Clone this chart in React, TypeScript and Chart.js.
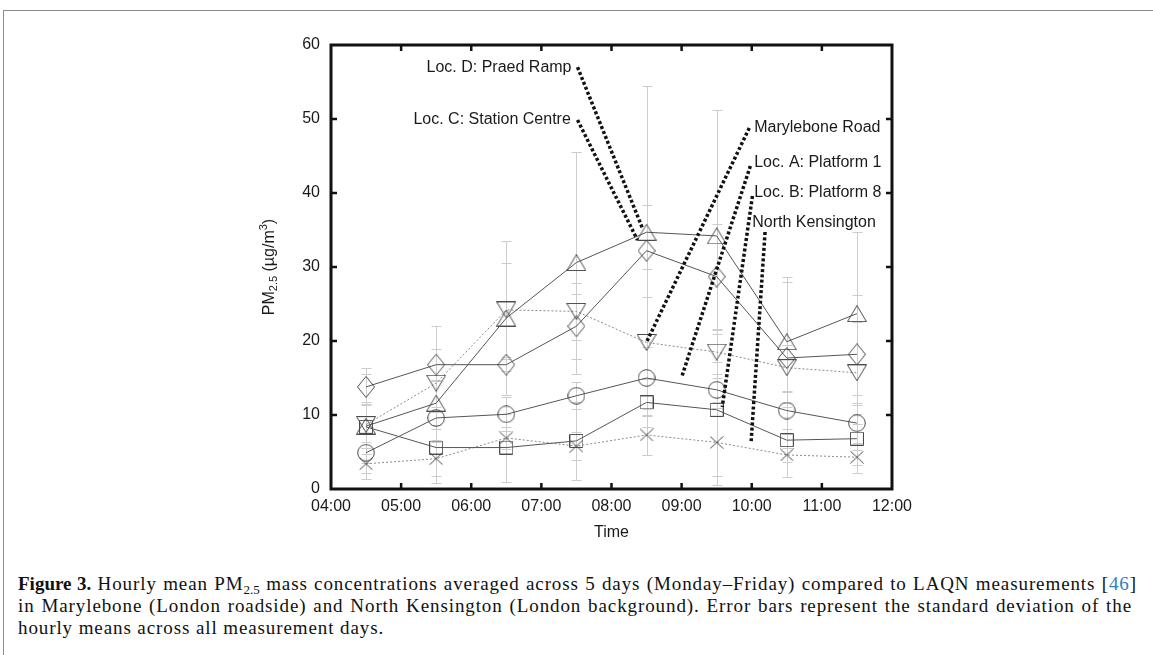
import React, { useEffect, useRef } from 'react';
import { Chart, registerables } from 'chart.js';

Chart.register(...registerables);

// ---------------- data ----------------
const hours = [4.5, 5.5, 6.5, 7.5, 8.5, 9.5, 10.5, 11.5];
const xTickValues = [4, 5, 6, 7, 8, 9, 10, 11, 12];
const xTickLabels = ['04:00', '05:00', '06:00', '07:00', '08:00', '09:00', '10:00', '11:00', '12:00'];
const yTickValues = [0, 10, 20, 30, 40, 50, 60];

const locD = [8.5, 11.6, 23.1, 30.6, 34.7, 34.2, 19.9, 23.7];
const locDSd = [3.0, 3.0, 10.4, 15.0, 19.8, 17.0, 8.8, 11.0];
const locC = [13.8, 16.8, 16.8, 22.0, 32.2, 28.7, 17.7, 18.2];
const locCSd = [2.5, 2.1, 0.8, 4.4, 6.2, 7.1, 10.3, 8.0];
const marylebone = [8.7, 14.3, 24.2, 24.0, 19.8, 18.5, 16.4, 15.7];
const maryleboneSd = [3.1, 7.7, 6.4, 3.9, 9.9, 3.0, 3.1, 6.9];
const locA = [4.9, 9.6, 10.1, 12.6, 15.0, 13.4, 10.6, 8.9];
const locASd = [1.4, 1.5, 2.3, 1.8, 4.2, 1.6, 2.5, 2.7];
const locB = [8.4, 5.6, 5.6, 6.5, 11.7, 10.7, 6.6, 6.8];
const locBSd = [7.1, 4.8, 4.6, 5.3, 3.3, 10.2, 5.0, 4.6];
const northKen = [3.4, 4.1, 6.9, 5.8, 7.3, 6.3, 4.6, 4.3];
const northKenSd = [1.3, 2.3, 1.5, 1.9, 2.7, 4.6, 0.9, 1.0];

// annotation labels (data coordinates: hours, µg/m³)
const annLabels = ['Loc. D: Praed Ramp', 'Loc. C: Station Centre', 'Marylebone Road', 'Loc. A: Platform 1', 'Loc. B: Platform 8', 'North Kensington'];
const annAlign = ['right', 'right', 'left', 'left', 'left', 'left'];
const annTextX = [7.43, 7.42, 10.035, 10.035, 10.035, 10.007];
const annTextY = [56.9, 49.9, 48.9, 44.05, 40.0, 35.95];
const annX1 = [7.516, 7.516, 9.965, 9.98, 10.01, 10.19];
const annY1 = [57.0, 49.86, 48.78, 43.65, 39.6, 34.73];
const annX2 = [8.44, 8.37, 8.5, 9.0, 9.58, 9.99];
const annY2 = [35.27, 33.65, 19.86, 15.1, 11.08, 6.2];

const FONT = '"Liberation Sans", Arial, sans-serif';

function makeMarker(kind: string): HTMLCanvasElement {
  const dims: Record<string, [number, number]> = {
    up: [20, 17], down: [20, 17], diamond: [18, 22], circle: [18, 18], square: [14, 14], x: [14, 13],
  };
  const [w, h] = dims[kind];
  const c = document.createElement('canvas');
  c.width = w; c.height = h;
  const g = c.getContext('2d')!;
  g.strokeStyle = '#4a4a4a';
  g.lineWidth = 1;
  g.beginPath();
  if (kind === 'up') {
    g.moveTo(w / 2, 0.5); g.lineTo(w - 0.5, h - 0.5); g.lineTo(0.5, h - 0.5); g.closePath();
  } else if (kind === 'down') {
    g.moveTo(0.5, 0.5); g.lineTo(w - 0.5, 0.5); g.lineTo(w / 2, h - 0.5); g.closePath();
  } else if (kind === 'diamond') {
    g.moveTo(w / 2, 0.5); g.lineTo(w - 0.5, h / 2); g.lineTo(w / 2, h - 0.5); g.lineTo(0.5, h / 2); g.closePath();
  } else if (kind === 'circle') {
    g.arc(w / 2, h / 2, w / 2 - 0.7, 0, Math.PI * 2);
  } else if (kind === 'square') {
    g.rect(0.5, 0.5, w - 1, h - 1);
  } else {
    g.moveTo(0.5, 0.5); g.lineTo(w - 0.5, h - 0.5); g.moveTo(w - 0.5, 0.5); g.lineTo(0.5, h - 0.5);
  }
  g.stroke();
  return c;
}

export default function App() {
  const ref = useRef<HTMLCanvasElement | null>(null);

  useEffect(() => {
    if (!ref.current) return;
    const series = [
      { label: 'Loc. D: Praed Ramp', values: locD, sd: locDSd, marker: 'up', color: '#555', dash: [] as number[] },
      { label: 'Loc. C: Station Centre', values: locC, sd: locCSd, marker: 'diamond', color: '#555', dash: [] },
      { label: 'Marylebone Road', values: marylebone, sd: maryleboneSd, marker: 'down', color: '#8a8a8a', dash: [2, 2] },
      { label: 'Loc. A: Platform 1', values: locA, sd: locASd, marker: 'circle', color: '#555', dash: [] },
      { label: 'Loc. B: Platform 8', values: locB, sd: locBSd, marker: 'square', color: '#555', dash: [] },
      { label: 'North Kensington', values: northKen, sd: northKenSd, marker: 'x', color: '#8a8a8a', dash: [2, 2] },
    ];

    const decor = {
      id: 'decor',
      beforeDatasetsDraw(chart: any) {
        const { ctx, scales: { x, y } } = chart;
        ctx.save();
        ctx.strokeStyle = '#cdcdcd';
        ctx.lineWidth = 1;
        series.forEach((s) => {
          s.values.forEach((v, i) => {
            const px = Math.round(x.getPixelForValue(hours[i])) + 0.5;
            const t = Math.round(y.getPixelForValue(v + s.sd[i])) + 0.5;
            const b = Math.round(y.getPixelForValue(v - s.sd[i])) + 0.5;
            ctx.beginPath();
            ctx.moveTo(px, t); ctx.lineTo(px, b);
            ctx.moveTo(px - 5, t); ctx.lineTo(px + 5, t);
            ctx.moveTo(px - 5, b); ctx.lineTo(px + 5, b);
            ctx.stroke();
          });
        });
        ctx.restore();
      },
      afterDatasetsDraw(chart: any) {
        const { ctx, chartArea: a, scales: { x, y } } = chart;
        ctx.save();
        // annotation dotted lines and labels
        ctx.strokeStyle = '#111';
        ctx.lineWidth = 3.5;
        ctx.setLineDash([3, 2.3]);
        for (let i = 0; i < annLabels.length; i++) {
          ctx.beginPath();
          ctx.moveTo(x.getPixelForValue(annX1[i]), y.getPixelForValue(annY1[i]));
          ctx.lineTo(x.getPixelForValue(annX2[i]), y.getPixelForValue(annY2[i]));
          ctx.stroke();
        }
        ctx.setLineDash([]);
        ctx.fillStyle = '#1a1a1a';
        ctx.font = `16px ${FONT}`;
        ctx.textBaseline = 'middle';
        for (let i = 0; i < annLabels.length; i++) {
          ctx.textAlign = annAlign[i] as CanvasTextAlign;
          ctx.fillText(annLabels[i], x.getPixelForValue(annTextX[i]), y.getPixelForValue(annTextY[i]));
        }
        // box
        ctx.strokeStyle = '#111';
        ctx.lineWidth = 3;
        ctx.strokeRect(a.left, a.top, a.right - a.left, a.bottom - a.top);
        // inward ticks
        ctx.lineWidth = 2.5;
        const tl = 6;
        ctx.beginPath();
        xTickValues.slice(1, -1).forEach((v) => {
          const px = x.getPixelForValue(v);
          ctx.moveTo(px, a.bottom); ctx.lineTo(px, a.bottom - tl);
          ctx.moveTo(px, a.top); ctx.lineTo(px, a.top + tl);
        });
        yTickValues.slice(1, -1).forEach((v) => {
          const py = y.getPixelForValue(v);
          ctx.moveTo(a.left, py); ctx.lineTo(a.left + tl, py);
          ctx.moveTo(a.right, py); ctx.lineTo(a.right - tl, py);
        });
        ctx.stroke();
        ctx.restore();
      },
      afterDraw(chart: any) {
        const { ctx, chartArea: a } = chart;
        ctx.save();
        ctx.fillStyle = '#1a1a1a';
        ctx.textBaseline = 'middle';
        // x title
        ctx.font = `16px ${FONT}`;
        ctx.textAlign = 'center';
        ctx.fillText('Time', (a.left + a.right) / 2, a.bottom + 44);
        // y title with sub/superscript
        const big = `16px ${FONT}`;
        const small = `11px ${FONT}`;
        const parts: [string, string, number][] = [
          ['PM', big, 0], ['2.5', small, 4], [' (µg/m', big, 0], ['3', small, -6], [')', big, 0],
        ];
        let total = 0;
        parts.forEach(([t, f]) => { ctx.font = f; total += ctx.measureText(t).width; });
        ctx.translate(a.left - 61, (a.top + a.bottom) / 2);
        ctx.rotate(-Math.PI / 2);
        ctx.textAlign = 'left';
        let cx = -total / 2;
        parts.forEach(([t, f, dy]) => {
          ctx.font = f;
          ctx.fillText(t, cx, dy);
          cx += ctx.measureText(t).width;
        });
        ctx.restore();
      },
    };

    const chart = new Chart(ref.current, {
      type: 'line',
      data: {
        datasets: series.map((s) => ({
          label: s.label,
          data: s.values.map((v, i) => ({ x: hours[i], y: v })),
          borderColor: s.color,
          borderWidth: 1,
          borderDash: s.dash,
          pointStyle: makeMarker(s.marker) as any,
          pointRadius: 6,
          pointHoverRadius: 6,
          backgroundColor: 'transparent',
          fill: false,
          tension: 0,
        })),
      },
      options: {
        animation: false,
        responsive: false,
        events: [],
        layout: { padding: { left: 0, top: 25, right: 27, bottom: 0 } },
        plugins: { legend: { display: false }, tooltip: { enabled: false }, title: { display: false } },
        scales: {
          x: {
            type: 'linear',
            min: 4,
            max: 12,
            afterFit: (s: any) => { s.height = 71; },
            afterBuildTicks: (s: any) => { s.ticks = xTickValues.map((v) => ({ value: v })); },
            grid: { display: false, drawTicks: false },
            border: { display: false },
            ticks: {
              padding: 8,
              color: '#1a1a1a',
              font: { family: FONT, size: 16 },
              maxRotation: 0,
              autoSkip: false,
              callback: (v: any) => xTickLabels[xTickValues.indexOf(Number(v))] ?? '',
            },
          },
          y: {
            type: 'linear',
            min: 0,
            max: 60,
            afterFit: (s: any) => { s.width = 91; },
            afterBuildTicks: (s: any) => { s.ticks = yTickValues.map((v) => ({ value: v })); },
            grid: { display: false, drawTicks: false },
            border: { display: false },
            ticks: {
              padding: 11,
              color: '#1a1a1a',
              font: { family: FONT, size: 16 },
              callback: (v: any) => String(v),
            },
          },
        },
      },
      plugins: [decor],
    });
    return () => chart.destroy();
  }, []);

  const capStyle: React.CSSProperties = {
    fontFamily: '"Liberation Serif", "Times New Roman", serif',
    fontSize: 19,
    lineHeight: '22px',
    letterSpacing: '0.9px',
    color: '#111',
    whiteSpace: 'nowrap',
  };
  const sub: React.CSSProperties = { fontSize: 13, position: 'relative', top: 4, lineHeight: 0, verticalAlign: 'baseline', letterSpacing: 0 };

  return (
    <div style={{ position: 'absolute', left: 0, top: 0, width: 1153, height: 655, background: '#fff', overflow: 'hidden' }}>
      <div style={{ position: 'absolute', left: 3, top: 10, width: 1160, height: 660, borderTop: '1px solid #8c8c8c', borderLeft: '1px solid #8c8c8c' }} />
      <canvas ref={ref} width={680} height={540} style={{ position: 'absolute', left: 240, top: 20, width: 680, height: 540 }} />
      <div style={{ position: 'absolute', left: 18, top: 573, width: 1125 }}>
        <div style={{ ...capStyle, textAlign: 'justify', textAlignLast: 'justify', whiteSpace: 'normal', width: 1119 }}>
          <b style={{ letterSpacing: 0 }}>Figure 3.</b> Hourly mean PM<span style={sub}>2.5</span> mass concentrations averaged across 5 days (Monday–Friday) compared to LAQN measurements [<span style={{ color: '#2f7fc0' }}>46</span>]
        </div>
        <div style={{ ...capStyle, textAlign: 'justify', textAlignLast: 'justify', whiteSpace: 'normal', width: 1114 }}>
          in Marylebone (London roadside) and North Kensington (London background). Error bars represent the standard deviation of the
        </div>
        <div style={capStyle}>hourly means across all measurement days.</div>
      </div>
    </div>
  );
}
